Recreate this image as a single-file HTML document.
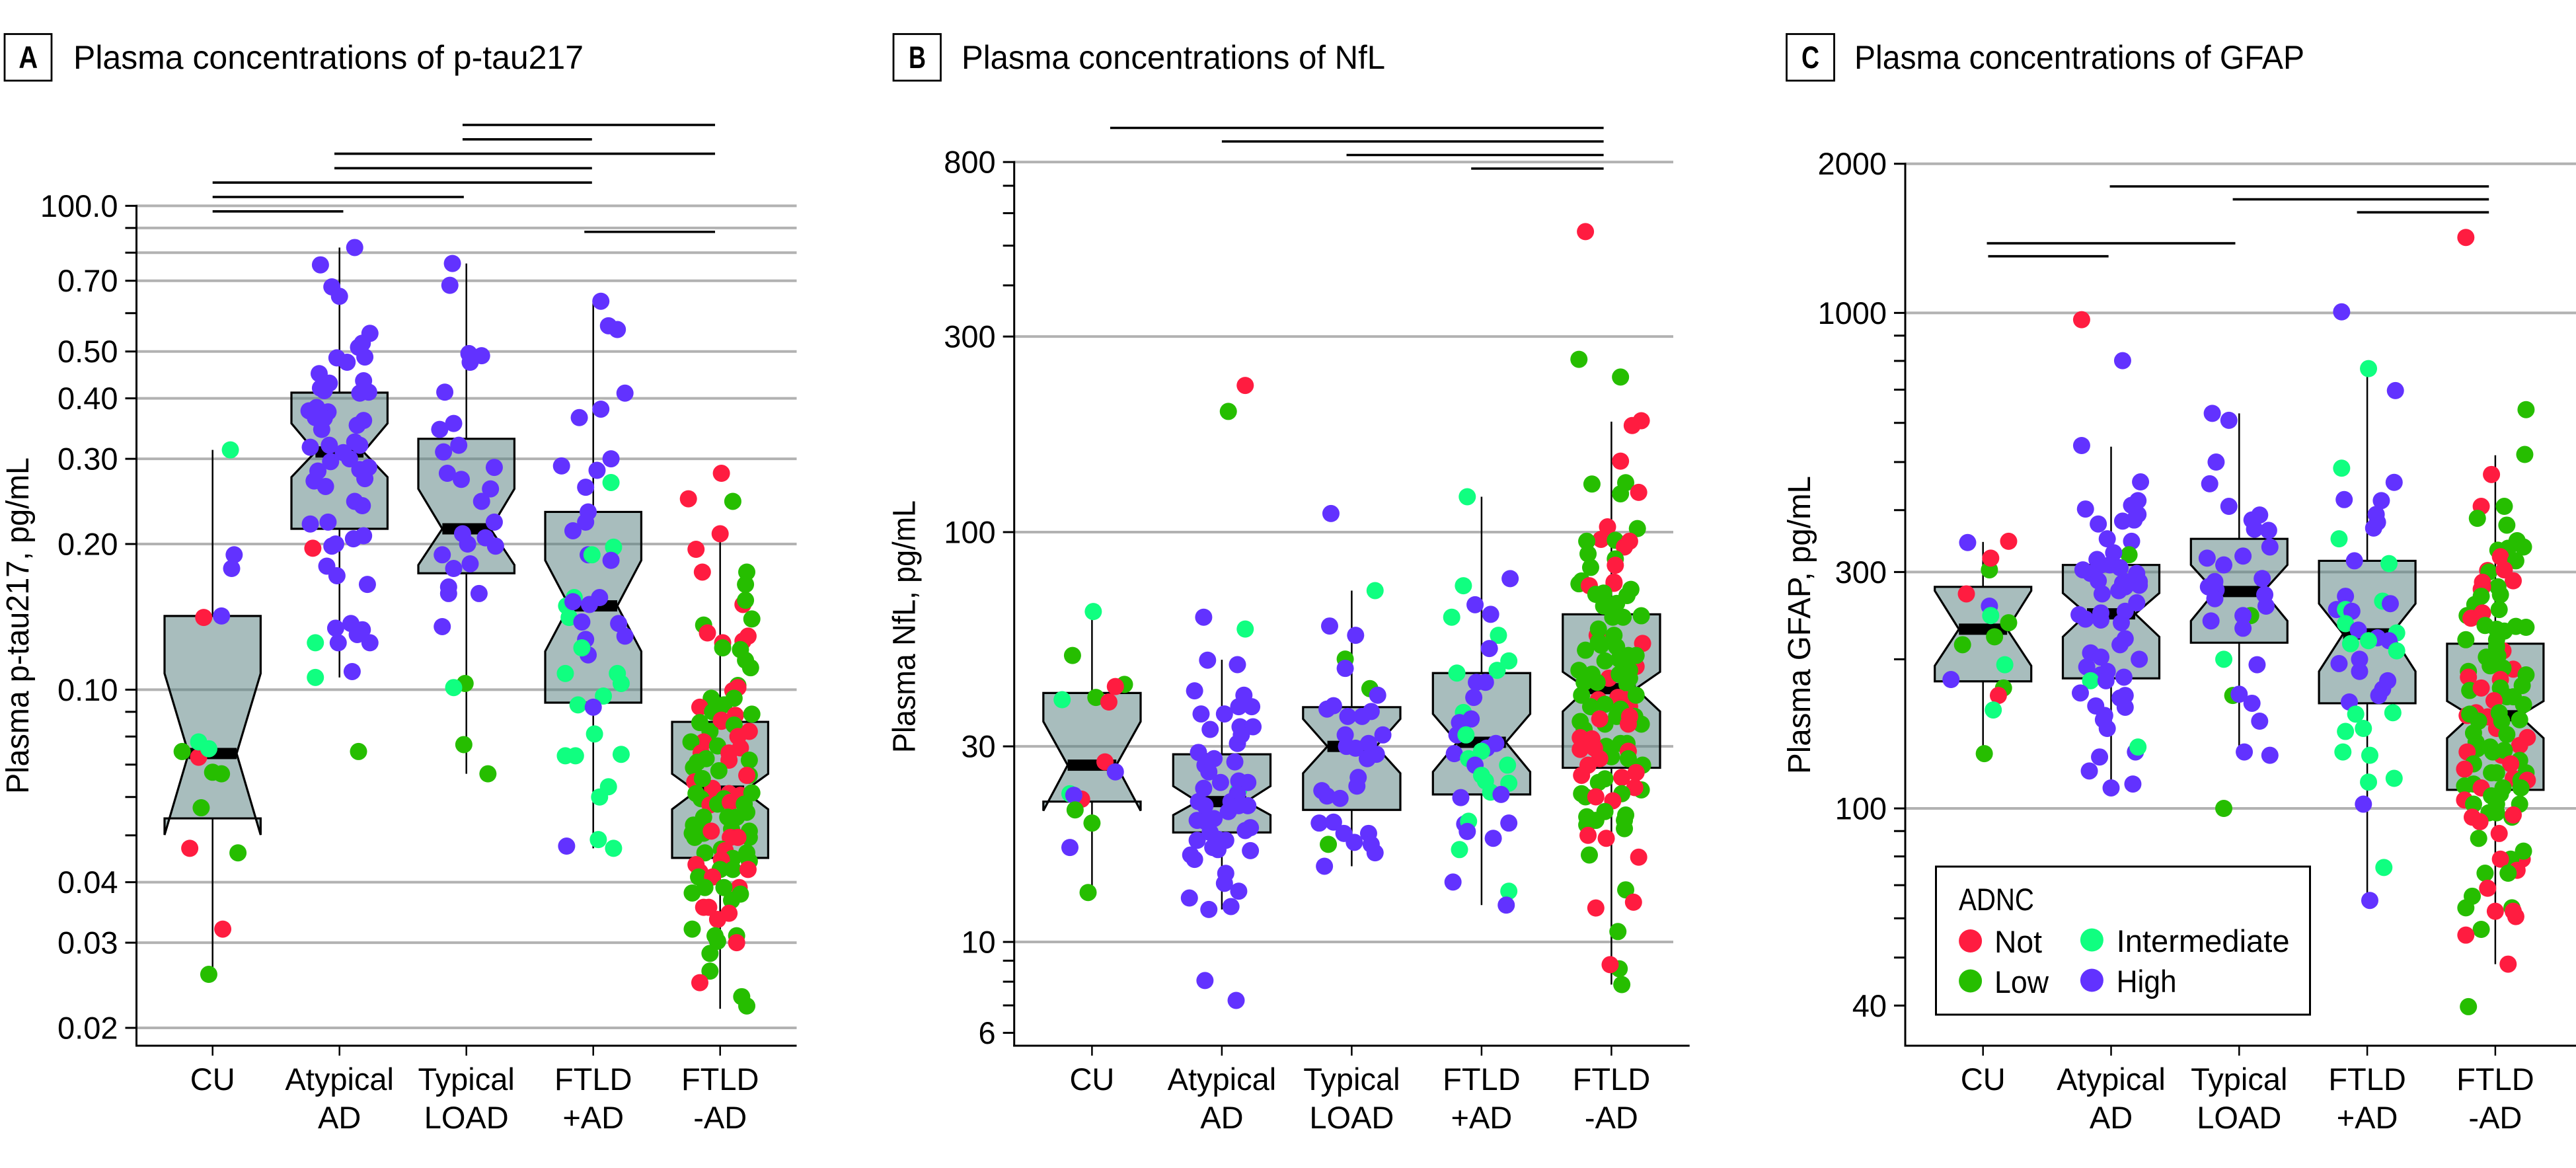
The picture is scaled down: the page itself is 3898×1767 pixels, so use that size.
<!DOCTYPE html>
<html lang="en">
<head>
<meta charset="utf-8">
<title>Plasma concentrations of p-tau217, NfL and GFAP</title>
<style>
html,body{margin:0;padding:0;background:#fff;}
svg{display:block;}
text{font-family:"Liberation Sans",sans-serif;fill:#000;}
</style>
</head>
<body>
<svg id="chart" xmlns="http://www.w3.org/2000/svg" width="3898" height="1767" viewBox="0 0 3898 1767">
  <rect x="0" y="0" width="3898" height="1767" fill="#fff"/>

  <rect x="7" y="51.5" width="71" height="70.5" fill="none" stroke="#000" stroke-width="2.8"/>
  <text x="42.7" y="103" font-size="47" font-weight="700" text-anchor="middle" textLength="29" lengthAdjust="spacingAndGlyphs">A</text>
  <text x="111" y="104" font-size="50" textLength="772" lengthAdjust="spacingAndGlyphs">Plasma concentrations of p-tau217</text>

  <rect x="1352" y="51.5" width="71.5" height="70.5" fill="none" stroke="#000" stroke-width="2.8"/>
  <text x="1388" y="103" font-size="47" font-weight="700" text-anchor="middle" textLength="26" lengthAdjust="spacingAndGlyphs">B</text>
  <text x="1455" y="104" font-size="50" textLength="641" lengthAdjust="spacingAndGlyphs">Plasma concentrations of NfL</text>

  <rect x="2703.5" y="51.5" width="72" height="70.5" fill="none" stroke="#000" stroke-width="2.8"/>
  <text x="2739.5" y="103" font-size="47" font-weight="700" text-anchor="middle" textLength="27" lengthAdjust="spacingAndGlyphs">C</text>
  <text x="2806" y="104" font-size="50" textLength="681" lengthAdjust="spacingAndGlyphs">Plasma concentrations of GFAP</text>

  <text transform="translate(43,1201) rotate(-90)" font-size="48" textLength="509" lengthAdjust="spacingAndGlyphs">Plasma p-tau217, pg/mL</text>
  <text transform="translate(1384.6,1139) rotate(-90)" font-size="48" textLength="382" lengthAdjust="spacingAndGlyphs">Plasma NfL, pg/mL</text>
  <text transform="translate(2739,1171) rotate(-90)" font-size="48" textLength="451" lengthAdjust="spacingAndGlyphs">Plasma GFAP, pg/mL</text>

  <g id="panels"></g>

  <g>
    <rect x="2929.5" y="1311" width="566" height="224" fill="#fff" stroke="#000" stroke-width="3"/>
    <text x="2964" y="1377" font-size="47" textLength="114" lengthAdjust="spacingAndGlyphs">ADNC</text>
    <circle cx="2981.6" cy="1423.5" r="17.5" fill="#ff1c40"/>
    <text x="3018" y="1441" font-size="47" textLength="72" lengthAdjust="spacingAndGlyphs">Not</text>
    <circle cx="2981.6" cy="1484" r="17.5" fill="#26be00"/>
    <text x="3018" y="1502" font-size="47" textLength="82" lengthAdjust="spacingAndGlyphs">Low</text>
    <circle cx="3165.4" cy="1422" r="17.5" fill="#10ff80"/>
    <text x="3202.6" y="1440" font-size="47" textLength="262" lengthAdjust="spacingAndGlyphs">Intermediate</text>
    <circle cx="3165.4" cy="1483" r="17.5" fill="#6232ff"/>
    <text x="3202.6" y="1501" font-size="47" textLength="91" lengthAdjust="spacingAndGlyphs">High</text>
  </g>
</svg>
<script>
/* ADNC classes */
const N = 'not', L = 'low', I = 'intermediate', H = 'high';
const adncColors = { not: '#ff1c40', low: '#26be00', intermediate: '#10ff80', high: '#6232ff' };

/* Category labels */
const categoryLine1 = ['CU', 'Atypical', 'Typical', 'FTLD', 'FTLD'];
const categoryLine2 = ['', 'AD', 'LOAD', '+AD', '-AD'];

/* Box stats, one row per category: whiskerLow, q1, notchLow, median, notchHigh, q3, whiskerHigh */
const statsA = [
  [0.0258, 0.0542, 0.0501, 0.0738, 0.108, 0.142, 0.313],
  [0.106, 0.215, 0.275, 0.31, 0.355, 0.411, 0.82],
  [0.067, 0.174, 0.181, 0.215, 0.26, 0.33, 0.76],
  [0.047, 0.094, 0.12, 0.149, 0.185, 0.233, 0.635],
  [0.0219, 0.0449, 0.0566, 0.0617, 0.067, 0.0858, 0.21]
];
const statsB = [
  [13.2, 22, 20.9, 27, 34.5, 40.5, 63.5],
  [12, 18.5, 20.4, 22, 24, 28.7, 48.8],
  [15.3, 21, 25.8, 30, 35, 37.4, 72],
  [12.3, 22.9, 26, 30.7, 36, 45.3, 122],
  [7.87, 26.6, 36.5, 41.5, 45.6, 63, 186]
];
const statsC = [
  [129, 180.5, 194, 230, 275, 280, 345],
  [109, 183, 222, 247, 272, 310, 537],
  [129, 216, 239, 274, 310, 350, 627],
  [65.6, 163, 189, 225, 259, 316, 767],
  [48.5, 109, 138.6, 153.8, 164.7, 215, 516]
];

/* Axis ticks */
const ticksA = [1, 0.9, 0.8, 0.7, 0.6, 0.5, 0.4, 0.3, 0.2, 0.1, 0.09, 0.08, 0.07, 0.06, 0.05, 0.04, 0.03, 0.02];
const tickLabelsA = ['100.0', '', '', '0.70', '', '0.50', '0.40', '0.30', '0.20', '0.10', '', '', '', '', '', '0.04', '0.03', '0.02'];
const gridA = [1, 0.9, 0.8, 0.7, 0.5, 0.4, 0.3, 0.2, 0.1, 0.04, 0.03, 0.02];
const ticksB = [800, 700, 600, 500, 400, 300, 100, 30, 10, 9, 8, 7, 6];
const tickLabelsB = ['800', '', '', '', '', '300', '100', '30', '10', '', '', '', '6'];
const gridB = [800, 300, 100, 30, 10];
const ticksC = [2000, 1000, 900, 800, 700, 600, 500, 400, 300, 200, 100, 90, 80, 70, 60, 50, 40];
const tickLabelsC = ['2000', '1000', '', '', '', '', '', '', '300', '', '100', '', '', '', '', '', '40'];
const gridC = [2000, 1000, 300, 100];

/* Significance bars: fromCategory, toCategory, row */
const sigA = [[1.97, 3.96, 0], [1.97, 2.99, 1], [0.96, 3.96, 2], [0.96, 2.99, 3], [0, 2.99, 4], [0, 1.98, 5], [0, 1.03, 6], [2.93, 3.96, 7.42]];
const sigB = [[0.14, 3.94, 0], [1, 3.94, 1], [1.96, 3.94, 2], [2.92, 3.94, 3]];
const sigC = [[0.99, 3.95, 0], [1.95, 3.95, 1], [2.92, 3.95, 2], [0.03, 1.97, 4.39], [0.04, 0.98, 5.39]];

/* Points: value, jitter (% of category spacing), ADNC class */
const aCU = [[0.313,14,I],[0.19,17,H],[0.178,15,H],[0.141,-7,N],[0.142,7,H],[0.0725,-11,N],[0.078,-11,I],[0.0745,-24,L],[0.0755,-3,I],[0.0675,0,L],[0.067,7,L],[0.057,-9,L],[0.047,-18,N],[0.046,20,L],[0.032,8,N],[0.0258,-3,L]];
const aAtypical = [[0.82,12,H],[0.755,-15,H],[0.68,-6,H],[0.65,0,H],[0.545,24,H],[0.52,18,H],[0.51,15,H],[0.485,-2,H],[0.487,20,H],[0.475,6,H],[0.45,-16,H],[0.43,-8,H],[0.435,19,H],[0.42,-15,H],[0.415,-12,H],[0.41,16,H],[0.412,23,H],[0.383,-18,H],[0.377,-24,H],[0.375,-9,H],[0.365,-19,H],[0.364,-12,H],[0.36,19,H],[0.352,14,H],[0.345,-14,H],[0.325,12,H],[0.317,-23,H],[0.32,16,H],[0.32,-8,H],[0.309,3,H],[0.296,-7,H],[0.3,8,H],[0.285,16,H],[0.288,23,H],[0.283,-17,H],[0.27,-20,H],[0.263,-11,H],[0.273,20,H],[0.245,12,H],[0.24,18,H],[0.22,-23,H],[0.222,-9,H],[0.208,19,H],[0.205,11,H],[0.2,-3,H],[0.198,-6,H],[0.196,-21,N],[0.18,-10,H],[0.172,-2,H],[0.165,22,H],[0.137,9,H],[0.134,-3,H],[0.133,18,H],[0.13,14,H],[0.125,-1,H],[0.125,24,H],[0.125,-19,I],[0.106,-19,I],[0.109,10,H],[0.0745,15,L]];
const aTypical = [[0.76,-11,H],[0.685,-13,H],[0.495,2,H],[0.49,12,H],[0.475,3,H],[0.412,-17,H],[0.355,-10,H],[0.345,-21,H],[0.32,-6,H],[0.31,-18,H],[0.288,22,H],[0.28,-15,H],[0.272,-4,H],[0.26,19,H],[0.245,12,H],[0.222,22,H],[0.21,-3,H],[0.206,15,H],[0.2,1,H],[0.198,23,H],[0.19,-19,H],[0.182,3,H],[0.178,-10,H],[0.163,-14,H],[0.158,-14,H],[0.158,10,H],[0.135,-19,H],[0.103,-1,L],[0.101,-10,I],[0.077,-2,L],[0.067,17,L]];
const aFTLDplus = [[0.635,6,H],[0.565,12,H],[0.555,19,H],[0.41,25,H],[0.38,6,H],[0.365,-11,H],[0.3,14,H],[0.29,-25,H],[0.284,3,H],[0.268,14,I],[0.262,-6,H],[0.233,-4,H],[0.222,-6,H],[0.213,-16,H],[0.197,16,I],[0.19,-4,H],[0.19,-1,I],[0.185,14,H],[0.155,-15,I],[0.149,-21,I],[0.141,-19,I],[0.152,-16,H],[0.15,-3,H],[0.155,5,H],[0.138,-9,H],[0.137,20,H],[0.127,-6,H],[0.129,25,H],[0.118,-4,H],[0.122,-9,I],[0.108,-22,I],[0.108,19,I],[0.103,22,I],[0.097,8,I],[0.093,-12,I],[0.092,0,H],[0.081,1,I],[0.073,-22,I],[0.073,-14,I],[0.0735,22,I],[0.063,12,I],[0.06,5,I],[0.049,4,I],[0.0475,-21,H],[0.047,16,I]];
const aFTLDminus = [[0.28,1,N],[0.248,-25,N],[0.245,10,L],[0.21,0,N],[0.195,-19,N],[0.175,-14,N],[0.175,21,L],[0.165,20,L],[0.15,18,N],[0.153,20,L],[0.14,25,L],[0.136,-13,L],[0.131,-10,N],[0.125,2,N],[0.122,2,L],[0.129,22,N],[0.126,18,N],[0.121,16,L],[0.115,20,L],[0.111,24,L],[0.102,14,L],[0.0995,10,N],[0.101,14,N],[0.096,-7,L],[0.096,11,L],[0.092,-16,N],[0.09,-6,L],[0.093,3,L],[0.0885,12,N],[0.089,25,L],[0.086,1,N],
[0.0855,-16,L],[0.082,-8,L],[0.0865,1,N],[0.0845,11,L],[0.082,23,N],[0.08,14,N],[0.078,-13,N],[0.078,-23,L],[0.0765,-2,L],[0.0758,16,N],[0.074,7,N],[0.0715,7,N],[0.0715,23,L],[0.074,-15,N],[0.072,-11,L],[0.0708,-18,L],[0.069,-21,L],[0.068,-1,L],[0.0665,23,L],[0.0665,21,N],[0.0645,-20,N],[0.0625,-6,N],[0.0655,-14,L],[0.061,7,N],[0.0605,16,N],[0.0612,25,L],[0.061,-19,L],[0.0595,-15,L],[0.0578,-8,N],[0.058,-2,L],[0.0595,3,L],[0.0585,8,N],[0.058,19,L],[0.0558,21,L],[0.0545,6,L],[0.0545,13,L],[0.0545,-13,L],[0.0525,-21,L],[0.0515,9,L],[0.0505,-22,L],[0.0495,-20,L],[0.0505,-13,L],[0.051,-7,N],[0.051,23,L],[0.0495,23,L],[0.0495,14,N],[0.0495,8,N],[0.046,-12,L],[0.0468,1,L],[0.0465,4,N],[0.046,21,L],[0.0448,10,L],[0.0445,1,N],[0.0442,23,L],[0.0425,0,L],[0.0425,10,L],[0.0435,-19,N],[0.042,-16,N],[0.041,-17,L],[0.0402,-12,L],[0.0425,22,N],[0.041,-6,N],
[0.039,15,N],[0.039,-12,L],[0.038,-22,L],[0.039,3,L],[0.0378,16,L],[0.0367,9,L],[0.0355,-9,N],[0.0355,-13,N],[0.0345,7,N],[0.0335,-2,N],[0.032,-22,L],[0.031,-4,L],[0.031,13,L],[0.03,13,N],[0.0302,-2,L],[0.0285,-8,L],[0.0262,-8,L],[0.0248,-16,N],[0.0232,17,L],[0.0222,21,L]];

const bCU = [[64,1,I],[50,-15,L],[42.5,25,L],[42,18,N],[39.5,3,L],[39,-23,I],[38.5,13,N],[27.5,10,N],[26,18,H],[23,-17,I],[22.3,-8,N],[22.8,-14,H],[21,-13,L],[19.5,0,L],[17,-17,H],[13.2,-3,L]];
const bAtypical = [[228,18,N],[197,5,L],[62,-14,H],[58,18,I],[48.7,-11,H],[47.5,12,H],[41,-21,H],[40,17,H],[37.5,13,H],[37.5,23,H],[36,-16,H],[36,2,H],[33.5,14,H],[33.5,24,H],[33,-9,H],[32,15,H],[30.5,12,H],[29,-18,H],[28,-6,H],[27,-13,H],[27.5,10,H],[26,-10,H],[24.5,-1,H],[23.5,13,I],[24.7,13,H],[24.5,20,H],[23.7,-14,H],[22,-18,H],[23,12,H],[21.5,20,H],[22,7,H],[21.5,-13,H],[21.5,13,H],[20.8,5,H],[19.8,-19,H],[20,-6,H],[19.7,-13,H],[19,22,H],[18.7,18,H],[17.7,-19,H],[18.5,-9,H],[17.7,3,H],[17.8,-3,H],[17,-7,H],[16.8,-3,H],[16.7,22,H],[16.3,-24,H],[15.9,-21,H],[14.7,3,H],[13.9,2,H],[13.3,13,H],[12.8,-25,H],[12.2,7,H],[12,-10,H],[8.05,-13,H],[7.2,11,H]];
const bTypical = [[111,-16,H],[72,18,I],[59,-17,H],[56,3,H],[49,-5,L],[46.5,-5,H],[41.5,14,L],[40,20,H],[37.7,-14,H],[37,-19,H],[36.5,15,H],[35.5,8,H],[35.5,-3,H],[32,24,H],[32,-5,H],[30.5,13,H],[30,-4,H],[29.7,3,H],[28.7,19,H],[28,12,H],[25.2,5,H],[24,4,H],[23.4,-23,H],[22.7,-19,H],[22.4,-9,H],[19.5,-25,H],[19.6,-14,H],[18.4,-6,H],[18.4,13,H],[17.5,2,H],[17.3,15,H],[17.3,-18,L],[16.5,18,H],[15.3,-21,H]];
const bFTLDplus = [[122,-11,I],[77,22,H],[74,-14,I],[66.5,-5,H],[63,7,H],[62,-23,I],[56,13,I],[52,6,H],[48.5,21,I],[46,12,I],[45.3,-19,I],[43,3,H],[43,-4,H],[39.5,-6,H],[36.3,-14,I],[35,-8,H],[34.3,-17,H],[32,-19,H],[32,-12,I],[30.5,11,H],[29.7,4,H],[29.2,0,I],[28.8,-21,H],[28,-10,I],[27,-5,H],[27,20,I],[25.5,0,I],[24.7,3,I],[24.4,21,I],[23.2,7,I],[22.9,15,H],[22.5,-16,H],[19.4,-13,H],[19.7,-10,I],[19.5,21,H],[18.6,-11,H],[17.9,9,H],[16.8,-17,I],[14,-22,H],[13.3,21,I],[12.3,19,H]];
const bFTLDminus = [[541,-20,N],[264,-25,L],[239,7,L],[187,23,N],[182,16,N],[149,7,N],[131,-15,L],[132,11,L],[124,7,L],[125,21,N],[103,-3,N],[102,20,L],[96,-8,N],[95,-19,L],[95.5,3,L],[92,10,N],[95,14,N],[88.5,-18,L],[86,3,L],[83,3,N],[82,-16,L],[76,-23,L],[75.5,2,N],[74.8,-25,L],[74,-17,N],[75,2,N],[72.5,15,L],[70.5,-12,L],[71,-6,L],[70,12,L],[66,-6,L],[67,4,L],[62,1,L],[62,9,L],[62.5,23,L],
[53.5,24,N],[56,-11,N],[58,-10,L],[56,2,L],[54,-10,L],[51.5,-20,L],[53,-8,L],[52.5,4,L],[47,19,N],[50,19,L],[50,13,L],[48.5,-5,L],[49,6,L],[44,-2,N],[46,14,L],[46,-25,L],[45,-15,L],[44,14,L],[43,-11,L],[45,6,L],[43,-21,L],[42.5,12,L],[39,-10,N],[37.5,14,N],[39.5,5,N],[39,11,N],[40,-23,L],[40,19,L],[38,-5,L],[37.5,-16,L],[37,7,L],[34,-5,L],[35.5,4,L],[34.5,-24,L],[35.5,18,L],[34,23,L],[34,13,N],[33,-21,L],[35.5,14,N],[35,-9,N],[30,-4,L],[30.5,7,L],[30.5,12,L],[31.5,-24,N],[31.3,-15,N],[29.2,13,N],[29.5,-24,N],[29.7,-13,N],[28.3,0,L],[28,13,L],[27,24,L],[28,-9,N],[27,-18,N],[25.5,-23,N],[25,-5,L],[24.5,-10,L],[23.5,23,L],[25.9,19,N],[25.2,8,N],[23.8,18,N],[23,-23,L],[23,8,L],[22.6,-20,L],[22.6,-12,N],[22.1,1,N],
[20.8,-5,L],[20.4,11,L],[20.2,-19,L],[19.8,-12,L],[19.8,10,L],[19.3,-19,L],[18.9,10,L],[18.2,-18,N],[17.9,-4,N],[16.3,-17,L],[16.1,21,N],[13.4,11,L],[12.1,-12,N],[12.5,17,N],[10.6,5,L],[8.6,6,L],[8.8,-1,N],[7.87,8,L]];

const cCU = [[344,-12,H],[346,20,N],[303,5,L],[320,6,N],[271,-13,N],[256,5,H],[245,6,I],[237,20,L],[222,9,L],[214,-16,L],[195,17,I],[182,-25,H],[175,16,L],[169,12,N],[158,8,I],[129,1,L]];
const cAtypical = [[969,-23,N],[801,9,H],[540,-23,H],[456,23,H],[418,21,H],[409,16,H],[402,-20,H],[392,21,H],[382,18,H],[380,9,H],[375,-10,H],[350,-3,H],[346,16,H],[325,14,L],[328,2,H],[318,-11,H],[303,-22,H],[310,-8,H],[310,-1,H],[306,7,H],[298,20,H],[298,-16,H],[288,-10,H],[287,11,H],[287,22,H],[285,9,H],[271,-7,H],[275,6,H],[260,20,H],[280,11,H],[282,22,H],[246,-25,H],[241,-20,H],[248,-8,H],[240,-8,H],[250,11,H],[237,8,H],[220,11,H],[214,7,H],[206,-16,H],[202,-8,H],[200,22,H],[193,-19,H],[189,-3,H],[186,-8,H],[184,10,H],[181,-16,I],[181,-4,H],[171,-24,H],[169,11,H],[167,7,H],[161,-12,H],[160,11,H],[154,-5,H],[151,-6,H],[145,-3,H],[130,19,H],[133,21,I],[127,-9,H],[119,-17,H],[110,0,H],[112,17,H]];
const cTypical = [[627,-21,H],[607,-8,H],[500,-18,H],[452,-23,H],[407,-8,H],[391,16,H],[382,10,H],[366,12,H],[364,23,H],[337,24,H],[323,3,H],[320,-25,H],[310,-12,H],[291,18,H],[287,-19,H],[280,-24,H],[276,-18,H],[270,20,H],[265,-19,H],[256,21,H],[245,9,L],[245,3,H],[239,-22,H],[231,3,H],[200,-12,I],[195,14,H],[169,-5,L],[170,0,H],[163,10,H],[150,16,H],[130,4,H],[128,24,H],[100,-12,L]];
const cFTLDplus = [[1005,-20,H],[772,1,I],[697,22,H],[486,-20,I],[455,21,H],[420,-18,H],[418,11,H],[392,7,H],[378,8,H],[368,5,H],[350,-22,I],[316,-10,H],[312,17,I],[268,-17,H],[262,12,I],[259,18,H],[252,-24,H],[252,-17,I],[250,-12,H],[236,-17,I],[229,-7,H],[226,23,I],[221,8,H],[218,17,H],[215,-13,I],[218,1,I],[208,23,I],[200,-6,H],[196,-22,H],[189,-6,H],[181,16,H],[174,12,H],[169,9,H],[164,-14,H],[155,-9,I],[156,20,I],[145,-3,I],[143,-17,I],[130,-19,I],[128,2,I],[113,1,I],[115,21,I],[102,-3,H],[76,13,I],[65.2,2,H]];
const cFTLDminus = [[1420,-23,N],[638,24,L],[518,23,L],[472,-3,N],[407,-11,N],[407,7,L],[385,-14,L],[373,9,L],[332,2,L],[335,10,L],[347,17,L],[337,22,L],[322,4,N],[316,16,L],[302,-6,N],[300,-5,L],[303,7,N],[288,14,N],[286,-10,N],[280,2,L],[277,-11,N],[280,-10,N],[270,4,L],[268,-11,L],[258,-16,L],[252,3,L],[248,-10,N],[245,-22,L],[242,-19,N],
[219,-23,L],[234,-8,L],[230,1,L],[228,7,L],[232,24,L],[233,16,L],[208,6,N],[219,1,L],[212,1,L],[203,2,L],[202,-7,L],[194,-4,L],[191,14,N],[192,6,L],[189,-21,L],[184,-21,N],[186,24,L],[182,4,N],[177,21,L],[173,-20,L],[175,-11,N],[175,4,L],[168,9,L],[165,-1,N],[162,22,L],[168,14,L],[156,-15,N],[154,-22,N],[155,-20,L],[153,-6,N],[156,3,L],[151,19,L],[150,-13,L],[145,1,N],[150,5,L],[142,-17,L],[141,9,L],[139,25,N],[134,19,N],[136,-15,L],[132,-14,L],[130,-22,N],[128,5,N],[133,-4,L],[130,-2,L],[131,7,L],[125,19,L],[123,12,N],[123,-17,L],[120,-24,N],[118,24,L],[118,-3,L],[118,1,L],[115,14,N],[114,20,L],[114,25,N],[111,-24,L],[112,-17,L],[110,-11,N],[110,6,L],[110,20,L],[106,-3,L],[107,4,L],[104,-24,N],[102,-17,L],[102,1,L],[102,19,L],[98,-5,L],[98,1,L],[96,13,L],[97,14,N],[96,-18,N],[94,-12,N],
[89,3,N],[87,-13,L],[79,21,N],[82,22,L],[79,12,L],[79,4,N],[75,17,N],[74,-8,L],[74,10,L],[69,-6,N],[66.5,-18,L],[63,-23,L],[62,0,N],[63,13,L],[62,14,N],[60.5,16,N],[57,-11,L],[55.5,-23,N],[48.5,10,N],[39.8,-21,L]];

const groupsA = [aCU, aAtypical, aTypical, aFTLDplus, aFTLDminus];
const groupsB = [bCU, bAtypical, bTypical, bFTLDplus, bFTLDminus];
const groupsC = [cCU, cAtypical, cTypical, cFTLDplus, cFTLDminus];

/* Drawing */
const SVG_NS = 'http://www.w3.org/2000/svg';
const root = document.getElementById('panels');

function make(tag, attrs, parent) {
  const el = document.createElementNS(SVG_NS, tag);
  for (const k in attrs) el.setAttribute(k, attrs[k]);
  parent.appendChild(el);
  return el;
}

function drawPanel(cfg) {
  const group = make('g', {}, root);
  
  

  const yScale = v => cfg.refY - cfg.decade * (Math.log10(v) - Math.log10(cfg.refValue));
  const xScale = c => cfg.firstX + cfg.step * c;

  cfg.grid.forEach(v => {
    const el = make('line', { x1: cfg.axisX, x2: cfg.gridEnd, y1: yScale(v), y2: yScale(v), stroke: '#b2b2b2', 'stroke-width': 4 }, group);
    
    
  });

  cfg.sig.forEach(s => {
    const sy = cfg.sigTop + cfg.sigStep * s[2];
    const el = make('line', { x1: xScale(s[0]), x2: xScale(s[1]), y1: sy, y2: sy, stroke: '#000', 'stroke-width': 3.6 }, group);
    
    
  });

  cfg.stats.forEach((st, c) => {
    const cx = xScale(c), hw = cfg.halfBox, waist = hw / 2;
    const yLow = yScale(st[0]), yQ1 = yScale(st[1]), yNL = yScale(st[2]), yMed = yScale(st[3]),
          yNH = yScale(st[4]), yQ3 = yScale(st[5]), yHigh = yScale(st[6]);

    const upper = make('line', { x1: cx, x2: cx, y1: yHigh, y2: yQ3, stroke: '#000', 'stroke-width': 2.5 }, group);
    
    

    const lower = make('line', { x1: cx, x2: cx, y1: yQ1, y2: yLow, stroke: '#000', 'stroke-width': 2.5 }, group);
    
    

    const d = 'M' + (cx - hw) + ',' + yQ3 + 'L' + (cx + hw) + ',' + yQ3 + 'L' + (cx + hw) + ',' + yNH +
      'L' + (cx + waist) + ',' + yMed + 'L' + (cx + hw) + ',' + yNL + 'L' + (cx + hw) + ',' + yQ1 +
      'L' + (cx - hw) + ',' + yQ1 + 'L' + (cx - hw) + ',' + yNL + 'L' + (cx - waist) + ',' + yMed +
      'L' + (cx - hw) + ',' + yNH + 'Z';
    const fill = make('path', { d: d, fill: 'rgb(88,128,128)', 'fill-opacity': 0.52, stroke: 'none' }, group);
    
    

    const outline = make('path', { d: d, fill: 'none', stroke: '#000', 'stroke-width': 3.2, 'stroke-linejoin': 'miter' }, group);
    
    

    const median = make('rect', { x: cx - waist, y: yMed - 8.5, width: waist * 2, height: 17, fill: '#000' }, group);
    
    
  });

  cfg.groups.forEach((pts, c) => {
    pts.forEach(p => {
      const dot = make('circle', { cx: xScale(c) + p[1] / 100 * cfg.step, cy: yScale(p[0]), r: 13, fill: adncColors[p[2]] }, group);
      
      
    });
  });

  const yAxis = make('line', { x1: cfg.axisX, x2: cfg.axisX, y1: yScale(cfg.ticks[0]) - 1.5, y2: 1583.5, stroke: '#000', 'stroke-width': 3 }, group);
  
  

  const xAxis = make('line', { x1: cfg.axisX - 1.5, x2: cfg.axisEnd, y1: 1582, y2: 1582, stroke: '#000', 'stroke-width': 3 }, group);
  
  

  cfg.ticks.forEach((v, i) => {
    const ty = yScale(v);
    const tick = make('line', { x1: cfg.axisX - 17, x2: cfg.axisX, y1: ty, y2: ty, stroke: '#000', 'stroke-width': 3 }, group);
    
    
    if (cfg.tickLabels[i]) {
      const lab = make('text', { x: cfg.axisX - 28, y: ty + 16.5, 'font-size': 47, 'text-anchor': 'end' }, group);
      
      
      lab.textContent = cfg.tickLabels[i];
    }
  });

  categoryLine1.forEach((label, c) => {
    const cx = xScale(c);
    const tick = make('line', { x1: cx, x2: cx, y1: 1582, y2: 1597, stroke: '#000', 'stroke-width': 2.5 }, group);
    
    

    const first = make('text', { x: cx, y: 1649, 'font-size': 47, 'text-anchor': 'middle' }, group);
    
    
    first.textContent = label;

    if (categoryLine2[c]) {
      const second = make('text', { x: cx, y: 1707, 'font-size': 47, 'text-anchor': 'middle' }, group);
      
      
      second.textContent = categoryLine2[c];
    }
  });
}

drawPanel({ id: 'a', axisX: 206.5, axisEnd: 1205.5, gridEnd: 1205.5, firstX: 321.7, step: 192, halfBox: 72.7,
  refValue: 0.02, refY: 1555, decade: 732, ticks: ticksA, tickLabels: tickLabelsA, grid: gridA,
  sig: sigA, sigTop: 189, sigStep: 21.8, stats: statsA, groups: groupsA });
drawPanel({ id: 'b', axisX: 1534.7, axisEnd: 2556.7, gridEnd: 2532, firstX: 1652.4, step: 196.5, halfBox: 73.6,
  refValue: 10, refY: 1425, decade: 620, ticks: ticksB, tickLabels: tickLabelsB, grid: gridB,
  sig: sigB, sigTop: 193.5, sigStep: 20.5, stats: statsB, groups: groupsB });
drawPanel({ id: 'c', axisX: 2883, axisEnd: 3898, gridEnd: 3898, firstX: 3000.7, step: 193.8, halfBox: 73,
  refValue: 100, refY: 1223, decade: 749.6, ticks: ticksC, tickLabels: tickLabelsC, grid: gridC,
  sig: sigC, sigTop: 282, sigStep: 19.6, stats: statsC, groups: groupsC });
</script>
</body>
</html>
